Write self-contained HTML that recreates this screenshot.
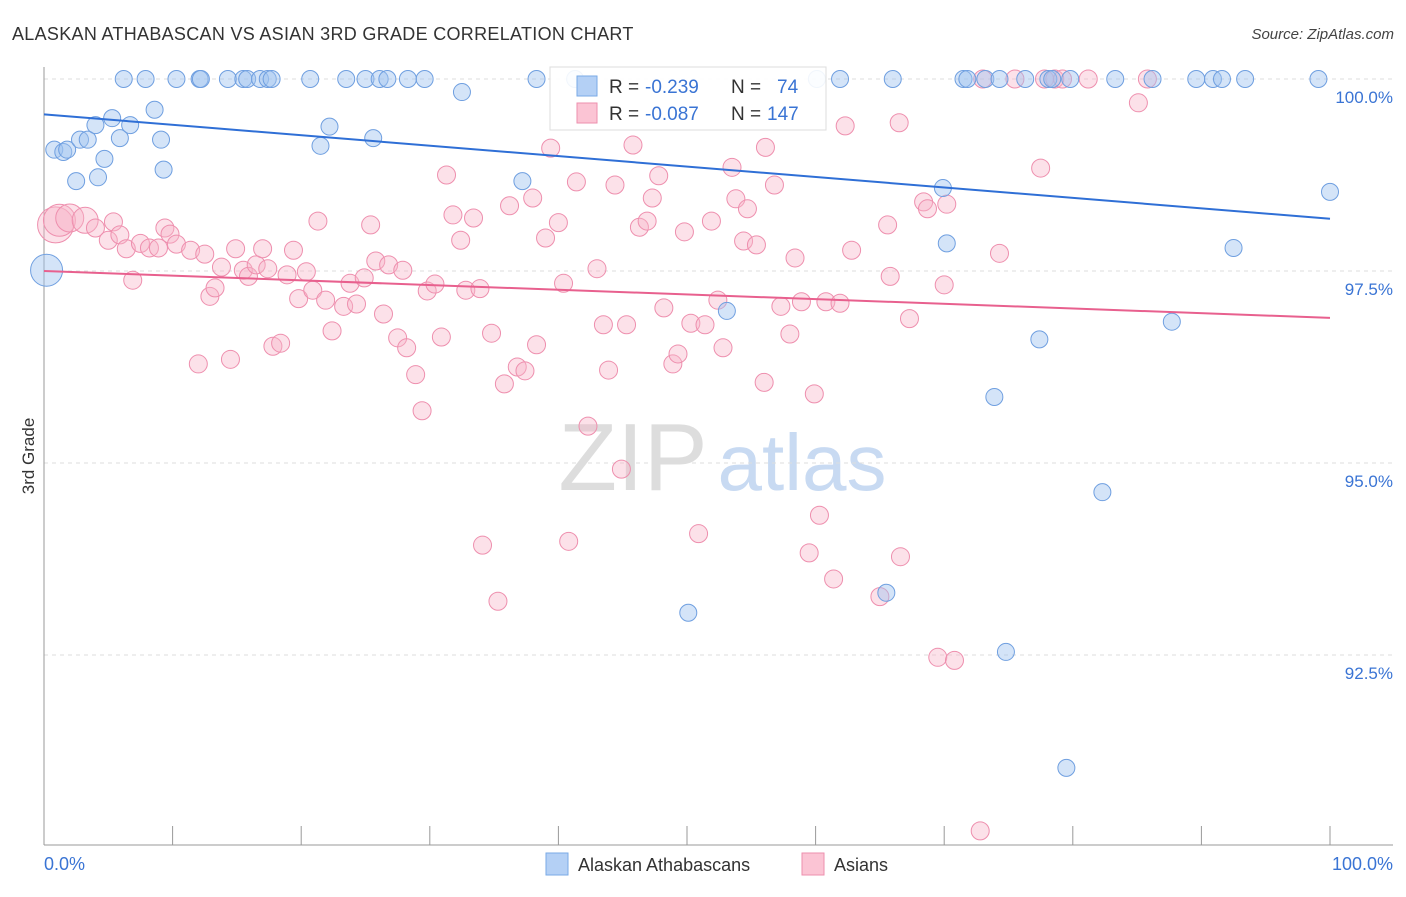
<!DOCTYPE html>
<html><head><meta charset="utf-8"><style>
body{margin:0;background:#fff;font-family:"Liberation Sans",sans-serif;}
svg text{font-family:"Liberation Sans",sans-serif;}
</style></head><body>
<svg id="chart" width="1406" height="892">
<text x="12" y="40" font-size="18" fill="#333" letter-spacing="0.3">ALASKAN ATHABASCAN VS ASIAN 3RD GRADE CORRELATION CHART</text>
<text x="1394" y="39" font-size="15" fill="#444" font-style="italic" text-anchor="end">Source: ZipAtlas.com</text>
<text x="34" y="456" font-size="17" fill="#333" transform="rotate(-90 34 456)" text-anchor="middle">3rd Grade</text>
<g>
<text x="633" y="490" font-size="96" fill="#ddd" font-family="Liberation Serif" text-anchor="middle">ZIP</text>
<text x="802" y="490" font-size="80" fill="#c8daf2" text-anchor="middle">atlas</text>
</g>
<g id="grid"></g><g id="axes"></g><g id="pts"></g><g id="trend"></g>
<g>
<rect x="550" y="67" width="276" height="63" fill="#fff" fill-opacity="0.9" stroke="#ddd"/>
<rect x="577" y="76" width="20" height="20" fill="#b4d0f5" stroke="#7aaae6"/>
<text x="609" y="93" font-size="19" fill="#333">R =</text>
<text x="645" y="93" font-size="19" fill="#3a74d4">-0.239</text>
<text x="731" y="93" font-size="19" fill="#333">N =</text>
<text x="777" y="93" font-size="19" fill="#3a74d4">74</text>
<rect x="577" y="103" width="20" height="20" fill="#fbc4d4" stroke="#ee8fae"/>
<text x="609" y="120" font-size="19" fill="#333">R =</text>
<text x="645" y="120" font-size="19" fill="#3a74d4">-0.087</text>
<text x="731" y="120" font-size="19" fill="#333">N =</text>
<text x="767" y="120" font-size="19" fill="#3a74d4">147</text>
</g>
<g>
<rect x="546" y="853" width="22" height="22" fill="#b4d0f5" stroke="#7aaae6"/>
<text x="578" y="871" font-size="18" fill="#333">Alaskan Athabascans</text>
<rect x="802" y="853" width="22" height="22" fill="#fbc4d4" stroke="#ee8fae"/>
<text x="834" y="871" font-size="18" fill="#333">Asians</text>
</g>
</svg>
<script>
const yTicks=[100,97.5,95,92.5];
const yTickLabels=["100.0%","97.5%","95.0%","92.5%"];
const xTickLabels=["0.0%","100.0%"];
const blueX=[6.2,7.9,10.3,12.1,12.2,14.3,15.5,15.8,16.8,17.4,17.7,20.7,23.5,25.0,26.1,26.7,28.3,29.6,38.3,41.3,60.1,61.9,66.0,71.5,71.8,73.2,74.3,76.3,78.1,78.4,79.8,83.3,86.2,89.6,90.9,91.6,93.4,99.1,
0.2,0.8,1.5,1.8,2.5,2.8,3.4,4.0,4.2,4.7,5.3,5.9,6.7,8.6,9.1,9.3,21.5,22.2,25.6,32.5,37.2,53.1,69.9,70.2,77.4,73.9,82.3,87.7,92.5,100.0,50.1,65.5,74.8,79.5];
const blueY=[100,100,100,100,100,100,100,100,100,100,100,100,100,100,100,100,100,100,100,100,100,100,100,100,100,100,100,100,100,100,100,100,100,100,100,100,100,100,
97.51,99.08,99.05,99.08,98.67,99.21,99.21,99.40,98.72,98.96,99.49,99.23,99.40,99.60,99.21,98.82,99.13,99.38,99.23,99.83,98.67,96.98,98.58,97.86,96.61,95.86,94.62,96.84,97.80,98.53,93.05,93.31,92.54,91.03];
const pinkX=[0.9,1.2,2.0,3.2,4.0,5.0,5.4,5.9,6.4,6.9,7.5,8.2,8.9,9.4,9.8,10.3,11.4,12.0,12.5,12.9,13.3,13.8,14.5,14.9,15.5,15.9,16.5,17.0,17.4,17.8,18.4,18.9,19.4,19.8,20.4,20.9,21.3,21.9,22.4,23.3,23.8,24.3,24.9,25.4,25.8,26.4,26.8,27.5,27.9,28.2,28.9,29.4,29.8,30.4,30.9,31.3,31.8,32.4,32.8,33.4,33.9,34.8,34.1,35.3,35.8,36.2,36.8,37.4,38.0,38.3,39.0,39.4,40.0,40.4,40.8,41.4,42.3,43.0,43.5,43.9,44.4,44.9,45.3,45.8,46.3,46.9,47.3,47.8,48.2,48.9,49.3,49.8,50.3,50.9,51.4,51.9,52.4,52.8,53.5,53.8,54.4,54.7,55.4,56.0,56.1,56.8,57.3,58.0,58.4,58.9,59.5,59.9,60.3,60.8,61.4,61.9,62.3,62.8,65.0,65.6,65.8,66.5,66.6,67.3,68.4,68.7,69.5,70.0,70.2,70.8,72.8,74.3,77.5,85.1,73.0,75.5,77.8,78.6,79.2,81.2,85.8];
const pinkY=[98.10,98.16,98.19,98.16,98.06,97.90,98.14,97.97,97.79,97.38,97.86,97.80,97.80,98.06,97.98,97.85,97.77,96.29,97.72,97.17,97.28,97.55,96.35,97.79,97.51,97.43,97.58,97.79,97.53,96.52,96.56,97.45,97.77,97.14,97.49,97.25,98.15,97.12,96.72,97.04,97.34,97.07,97.41,98.10,97.63,96.94,97.58,96.63,97.51,96.50,96.15,95.68,97.24,97.33,96.64,98.75,98.23,97.90,97.25,98.19,97.27,96.69,93.93,93.20,96.03,98.35,96.25,96.20,98.45,96.54,97.93,99.10,98.13,97.34,93.98,98.66,95.48,97.53,96.80,96.21,98.62,94.92,96.80,99.14,98.07,98.15,98.45,98.74,97.02,96.29,96.42,98.01,96.82,94.08,96.80,98.15,97.12,96.50,98.85,98.44,97.89,98.31,97.84,96.05,99.11,98.62,97.04,96.68,97.67,97.10,93.83,95.90,94.32,97.10,93.49,97.08,99.39,97.77,93.26,98.10,97.43,99.43,93.78,96.88,98.40,98.31,92.47,97.32,98.37,92.43,90.21,97.73,98.84,99.69,100,100,100,100,100,100,100];
const blueTrend=[99.54,98.18];
const pinkTrend=[97.50,96.89];
const NS="http://www.w3.org/2000/svg";
const xs=v=>44+v*12.86, ys=v=>79+(100-v)*76.8;
function mk(tag,attrs,parent){const e=document.createElementNS(NS,tag);for(const k in attrs)e.setAttribute(k,attrs[k]);document.getElementById(parent).appendChild(e);return e;}
yTicks.forEach((t,i)=>{
 const g=mk('line',{x1:44,x2:1393,y1:ys(t),y2:ys(t),stroke:'#ddd','stroke-dasharray':'4,4'},'grid');
 
 
 const l=mk('text',{x:1393,y:ys(t)+24,'font-size':17,fill:'#3a74d4','text-anchor':'end'},'grid');
 l.textContent=yTickLabels[i];
 
 
});
const ya=mk('line',{x1:44,x2:44,y1:67,y2:845,stroke:'#999'},'axes');


const xa=mk('line',{x1:44,x2:1393,y1:845,y2:845,stroke:'#999'},'axes');


for(let i=0;i<=10;i++){
 const t=mk('line',{x1:xs(i*10),x2:xs(i*10),y1:826,y2:845,stroke:'#999'},'axes');
 
 
}
[[0,'start'],[100,'end']].forEach((p,i)=>{
 const l=mk('text',{x:i?1393:44,y:870,'font-size':18,fill:'#3a74d4','text-anchor':p[1]},'axes');
 l.textContent=xTickLabels[i];
 
 
});
pinkX.forEach((x,i)=>{
 const r=i==0?18:i==1?16:i==2?14:i==3?13:9;
 const c=mk('circle',{cx:xs(x),cy:ys(pinkY[i]),r:r,fill:'rgba(248,180,200,0.4)',stroke:'#ee8fae','stroke-width':1},'pts');
 
 
});
blueX.forEach((x,i)=>{
 const r=(x<0.5&&blueY[i]<98)?16:8.5;
 const c=mk('circle',{cx:xs(x),cy:ys(blueY[i]),r:r,fill:'rgba(160,196,240,0.45)',stroke:'#6f9fe0','stroke-width':1},'pts');
 
 
});
const bt=mk('line',{x1:xs(0),x2:xs(100),y1:ys(blueTrend[0]),y2:ys(blueTrend[1]),stroke:'#2f6fd6','stroke-width':2},'trend');


const pt=mk('line',{x1:xs(0),x2:xs(100),y1:ys(pinkTrend[0]),y2:ys(pinkTrend[1]),stroke:'#e8608e','stroke-width':2},'trend');


</script>
</body></html>
